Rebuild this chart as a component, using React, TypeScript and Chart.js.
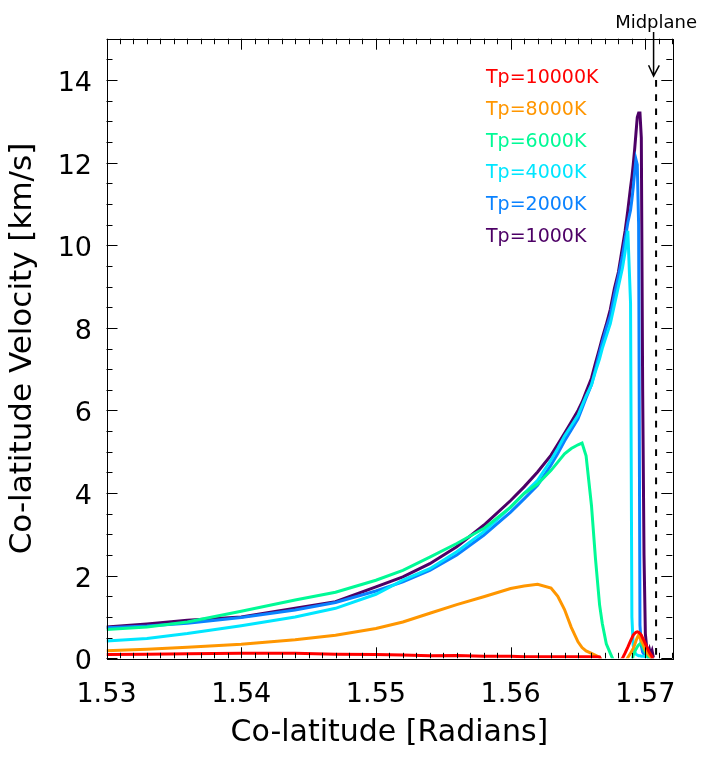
import React, { useEffect, useRef } from 'react';
import { Chart, Plugin, registerables } from 'chart.js';

Chart.register(...registerables);

// co-latitude grid (radians) shared by all runs
const colatitude = [
  1.530, 1.533, 1.536, 1.540, 1.544, 1.547, 1.550, 1.552, 1.554, 1.556,
  1.558, 1.560, 1.561, 1.562, 1.563, 1.5635, 1.564, 1.5645, 1.565, 1.5653,
  1.5656, 1.566, 1.5663, 1.5666, 1.5668, 1.5671, 1.5674, 1.5677, 1.568, 1.5683,
  1.5685, 1.5687, 1.5689, 1.569, 1.5691, 1.5692, 1.5693, 1.5694, 1.5695, 1.5696,
  1.5697, 1.5698, 1.5699, 1.57, 1.5701, 1.5702, 1.5703, 1.5704, 1.5705, 1.5706,
];

// co-latitude velocity [km/s] per temperature
const tp1000 = [
  0.76, 0.83, 0.92, 1.0, 1.21, 1.37, 1.73, 1.97, 2.29, 2.7,
  3.22, 3.82, 4.15, 4.51, 4.92, 5.18, 5.45, 5.72, 6.0, 6.2,
  6.45, 6.78, 7.15, 7.5, 7.75, 8.08, 8.45, 8.95, 9.35, 9.95,
  10.35, 10.85, 11.4, 11.65, 11.95, 12.3, 12.7, 13.1, 13.2, 13.2,
  12.6, 6.5, 2.5, 0.6, 0.25, 0.12, 0.22, 0.08, 0.18, 0.02,
];
const tp2000 = [
  0.74, 0.78, 0.85, 0.99, 1.17, 1.35, 1.63, 1.85, 2.13, 2.5,
  2.98, 3.54, 3.86, 4.19, 4.68, 4.96, 5.26, 5.53, 5.8, 6.05,
  6.3, 6.62, 7.0, 7.4, 7.65, 8.0, 8.3, 8.8, 9.25, 9.75,
  10.15, 10.55, 10.85, 11.1, 11.4, 11.75, 12.08, 11.95, 10.5, 0.8,
  0.3, 0.15, 0.1, 0.06, 0.1, 0.05, 0.06, 0.04, 0.02, -0.1,
];
const tp4000 = [
  0.42, 0.48, 0.6, 0.79, 1.0, 1.21, 1.55, 1.89, 2.17, 2.58,
  3.06, 3.66, 3.99, 4.31, 4.8, 5.08, 5.38, 5.63, 5.88, 6.12,
  6.35, 6.62, 6.95, 7.25, 7.5, 7.8, 8.1, 8.55, 9.0, 9.45,
  9.85, 10.35, 8.6, 1.0, 0.3, 0.15, 0.1, 0.08, 0.06, 0.06,
  0.05, 0.05, 0.05, 0.04, 0.04, 0.03, -0.1, null, null, null,
];
const tp6000 = [
  0.7, 0.76, 0.88, 1.14, 1.41, 1.6, 1.89, 2.13, 2.45, 2.78,
  3.14, 3.66, 3.99, 4.22, 4.55, 4.75, 4.95, 5.08, 5.17, 5.21,
  4.9, 3.7, 2.4, 1.3, 0.85, 0.35, 0.12, -0.1, null, null,
  null, null, null, -0.1, 0.08, 0.15, 0.22, 0.28, 0.32, 0.35,
  0.36, 0.28, 0.2, 0.14, 0.08, 0.04, -0.1, null, null, null,
];
const tp8000 = [
  0.18, 0.22, 0.27, 0.34, 0.45, 0.56, 0.72, 0.88, 1.09, 1.3,
  1.49, 1.69, 1.75, 1.79, 1.7, 1.5, 1.18, 0.75, 0.4, 0.26,
  0.18, 0.12, 0.07, 0.02, -0.1, null, null, null, null, null,
  -0.1, 0.02, 0.12, 0.18, 0.24, 0.32, 0.42, 0.5, 0.56, 0.5,
  0.42, 0.36, 0.28, 0.2, 0.14, 0.1, 0.06, 0.03, -0.1, null,
];
const tp10000 = [
  0.09, 0.1, 0.11, 0.12, 0.12, 0.1, 0.09, 0.08, 0.06, 0.07,
  0.05, 0.05, 0.04, 0.04, 0.04, null, 0.04, null, 0.04, null,
  null, 0.04, null, 0.03, -0.1, null, null, null, -0.1, 0.0,
  0.13, 0.27, 0.42, 0.49, 0.56, 0.6, 0.63, 0.64, 0.63, 0.6,
  0.56, 0.49, 0.42, 0.35, 0.28, 0.21, 0.14, 0.09, 0.04, -0.1,
];

const seriesLabels = ['Tp=10000K', 'Tp=8000K', 'Tp=6000K', 'Tp=4000K', 'Tp=2000K', 'Tp=1000K'];
const seriesColors = ['#ff0000', '#ff9600', '#00fa96', '#00e6ff', '#0a82ff', '#4d0066'];
const seriesValues = [tp10000, tp8000, tp6000, tp4000, tp2000, tp1000];

const xTickValues = [1.53, 1.54, 1.55, 1.56, 1.57];
const yTickValues = [0, 2, 4, 6, 8, 10, 12, 14];
const midplane = Math.PI / 2;

const FONT = "'DejaVu Sans'";

// IDL-style frame: inward ticks on all four sides, midplane marker and the text legend
const idlFrame: Plugin<'line'> = {
  id: 'idlFrame',
  afterDatasetsDraw(chart) {
    const { ctx, chartArea: a } = chart;
    const xs = chart.scales.x;
    const ys = chart.scales.y;
    ctx.save();
    ctx.strokeStyle = '#000';
    ctx.lineWidth = 1;
    ctx.strokeRect(Math.round(a.left) + 0.5, Math.round(a.top) + 0.5, Math.round(a.right - a.left), Math.round(a.bottom - a.top));

    ctx.beginPath();
    for (let i = 0; i <= 42; i++) {
      const px = Math.round(xs.getPixelForValue(1.53 + i * 0.001)) + 0.5;
      const len = i % 10 === 0 ? 11 : 5.5;
      ctx.moveTo(px, a.bottom);
      ctx.lineTo(px, a.bottom - len);
      ctx.moveTo(px, a.top);
      ctx.lineTo(px, a.top + len);
    }
    for (let i = 0; i <= 30; i++) {
      const py = Math.round(ys.getPixelForValue(i * 0.5)) + 0.5;
      const len = i % 4 === 0 ? 11 : 6;
      ctx.moveTo(a.left, py);
      ctx.lineTo(a.left + len, py);
      ctx.moveTo(a.right, py);
      ctx.lineTo(a.right - len, py);
    }
    ctx.stroke();

    // midplane dashed line
    const mx = xs.getPixelForValue(midplane);
    const topY = ys.getPixelForValue(14);
    ctx.beginPath();
    ctx.setLineDash([6.7, 7.5]);
    ctx.lineWidth = 2;
    ctx.moveTo(mx, topY);
    ctx.lineTo(mx, a.bottom);
    ctx.stroke();
    ctx.setLineDash([]);

    // arrow + label
    const ax = mx - 2.5;
    const tip = topY - 4;
    ctx.lineWidth = 1.5;
    ctx.beginPath();
    ctx.moveTo(ax, a.top - 6.7);
    ctx.lineTo(ax, tip);
    ctx.moveTo(ax - 5, tip - 10.7);
    ctx.lineTo(ax, tip);
    ctx.lineTo(ax + 5.7, tip - 10.7);
    ctx.stroke();

    ctx.fillStyle = '#000';
    ctx.font = `18px ${FONT}`;
    ctx.textAlign = 'center';
    ctx.textBaseline = 'alphabetic';
    ctx.fillText('Midplane', mx, a.top - 10.7);

    ctx.font = `19px ${FONT}`;
    ctx.textAlign = 'left';
    seriesLabels.forEach((label, i) => {
      ctx.fillStyle = seriesColors[i];
      ctx.fillText(label, a.left + 379.5, a.top + 44.3 + i * 31.8);
    });
    ctx.restore();
  },
};

export default function App() {
  const canvasRef = useRef<HTMLCanvasElement | null>(null);

  useEffect(() => {
    if (!canvasRef.current) return;
    const chart = new Chart(canvasRef.current, {
      type: 'line',
      data: {
        datasets: seriesValues.map((vals, i) => ({
          label: seriesLabels[i],
          data: colatitude.map((x, j) => ({ x, y: vals[j] })),
          borderColor: seriesColors[i],
          backgroundColor: seriesColors[i],
          borderWidth: 3,
          pointRadius: 0,
          tension: 0,
          spanGaps: true,
        })),
      },
      options: {
        animation: false,
        responsive: true,
        maintainAspectRatio: false,
        layout: { padding: { left: 0, top: 38.7, right: 35.7, bottom: 0 } },
        plugins: { legend: { display: false }, tooltip: { enabled: false } },
        scales: {
          x: {
            type: 'linear',
            min: 1.53,
            max: 1.572,
            afterBuildTicks: (s) => {
              s.ticks = xTickValues.map((value) => ({ value }));
            },
            afterFit: (s) => {
              s.height = 100.7;
            },
            grid: { display: false, drawTicks: false },
            border: { display: false },
            ticks: {
              padding: 20,
              color: '#000',
              maxRotation: 0,
              autoSkip: false,
              font: { family: FONT, size: 27 },
              callback: (v) => Number(v).toFixed(2),
            },
            title: {
              display: true,
              text: 'Co-latitude [Radians]',
              color: '#000',
              font: { family: FONT, size: 30 },
              padding: { top: 0, bottom: 7.5 },
            },
          },
          y: {
            type: 'linear',
            min: 0,
            max: 15,
            afterBuildTicks: (s) => {
              s.ticks = yTickValues.map((value) => ({ value }));
            },
            afterFit: (s) => {
              s.width = 106.5;
            },
            grid: { display: false, drawTicks: false },
            border: { display: false },
            ticks: {
              padding: 14.5,
              labelOffset: 4,
              color: '#000',
              font: { family: FONT, size: 27 },
              callback: (v) => String(v),
            },
            title: {
              display: true,
              text: 'Co-latitude Velocity [km/s]',
              color: '#000',
              font: { family: FONT, size: 31 },
              padding: { top: 4, bottom: 0 },
            },
          },
        },
      },
      plugins: [idlFrame],
    });
    return () => chart.destroy();
  }, []);

  return (
    <div style={{ position: 'fixed', left: 0, top: 0, width: 708, height: 759, background: '#fff' }}>
      <canvas ref={canvasRef} />
    </div>
  );
}
